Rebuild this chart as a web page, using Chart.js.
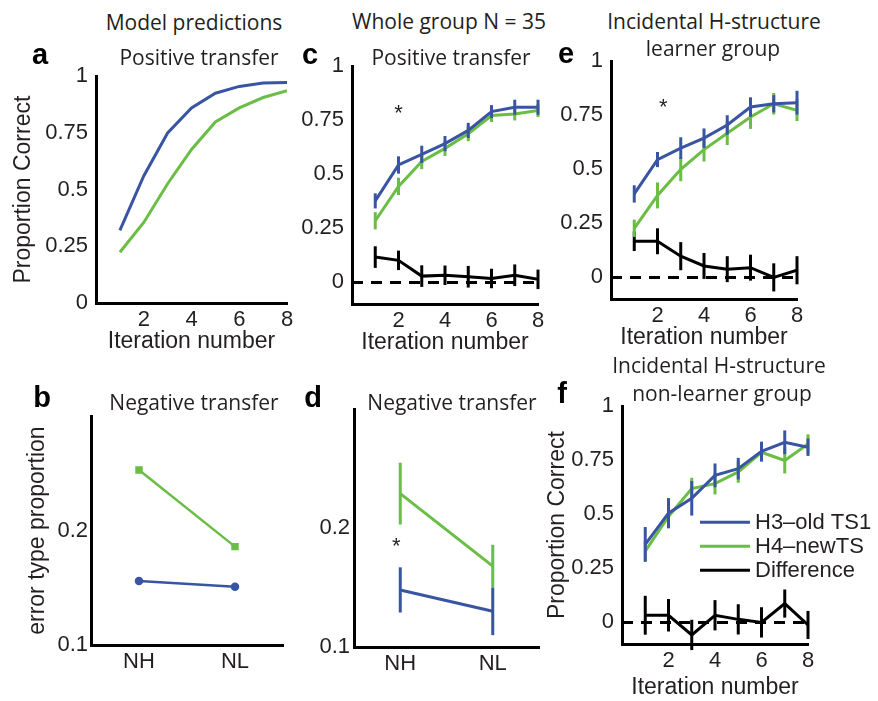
<!DOCTYPE html>
<html>
<head>
<meta charset="utf-8">
<script src="https://cdn.jsdelivr.net/npm/chart.js@4.4.1/dist/chart.umd.min.js"></script>
<style>
  html, body { margin: 0; padding: 0; background: #fff; }
  body { width: 878px; height: 701px; position: relative; overflow: hidden; }
  canvas { position: absolute; }
  .head { position: absolute; font-family: "Open Sans", sans-serif; font-size: 21px; color: #231f20;
          white-space: nowrap; transform: translate(-50%, -50%); line-height: 1; }
  .letter { position: absolute; font-family: "Liberation Sans", Arial, sans-serif; font-weight: bold;
            font-size: 29px; color: #000; transform: translate(-50%, -50%); line-height: 1; }
</style>
</head>
<body>

<canvas id="panelA" width="300" height="300" style="left:0;top:55px"></canvas>
<canvas id="panelB" width="298" height="280" style="left:0;top:400px"></canvas>
<canvas id="panelC" width="260" height="311" style="left:290px;top:45px"></canvas>
<canvas id="panelD" width="250" height="288" style="left:300px;top:392px"></canvas>
<canvas id="panelE" width="255" height="311" style="left:555px;top:40px"></canvas>
<canvas id="panelF" width="334" height="316" style="left:544px;top:385px"></canvas>

<div class="head" style="left:194px;top:22px">Model predictions</div>
<div class="letter" style="left:40px;top:54px">a</div>
<div class="head" style="left:199px;top:57px">Positive transfer</div>

<div class="head" style="left:449px;top:21px">Whole group N = 35</div>
<div class="letter" style="left:310px;top:54px">c</div>
<div class="head" style="left:451px;top:57px">Positive transfer</div>

<div class="head" style="left:714px;top:21px">Incidental H-structure</div>
<div class="head" style="left:713px;top:48px">learner group</div>
<div class="letter" style="left:566px;top:53px">e</div>

<div class="letter" style="left:42px;top:397px">b</div>
<div class="head" style="left:194px;top:402px">Negative transfer</div>

<div class="letter" style="left:313px;top:397px">d</div>
<div class="head" style="left:452px;top:402px">Negative transfer</div>

<div class="head" style="left:719px;top:365px">Incidental H-structure</div>
<div class="head" style="left:722px;top:393px">non-learner group</div>
<div class="letter" style="left:562px;top:393px">f</div>

<script>
// axes
const iterations = [1, 2, 3, 4, 5, 6, 7, 8];
const iterTicks = [2, 4, 6, 8];
const propTicks = [0, 0.25, 0.5, 0.75, 1];
const errTicks = [0.1, 0.2];
const transferCats = ['NH', 'NL'];
const seriesNames = ['H3\u2013old TS1', 'H4\u2013newTS', 'Difference'];

// a - model, positive transfer
const modelOld = [0.32, 0.56, 0.75, 0.86, 0.925, 0.955, 0.97, 0.972];
const modelNew = [0.224, 0.355, 0.526, 0.677, 0.798, 0.86, 0.906, 0.936];

// b - model, negative transfer
const modelNegOld = [0.156, 0.151];
const modelNegNew = [0.253, 0.186];

// c - whole group
const wholeOld = [0.377, 0.543, 0.592, 0.642, 0.703, 0.79, 0.81, 0.81];
const wholeOldErr = [0.035, 0.04, 0.04, 0.035, 0.035, 0.03, 0.035, 0.035];
const wholeNew = [0.285, 0.444, 0.559, 0.62, 0.688, 0.772, 0.779, 0.795];
const wholeNewErr = [0.04, 0.04, 0.035, 0.035, 0.035, 0.03, 0.03, 0.03];
const wholeDiff = [0.117, 0.102, 0.029, 0.033, 0.026, 0.018, 0.033, 0.014];
const wholeDiffErr = [0.05, 0.045, 0.05, 0.045, 0.05, 0.045, 0.05, 0.045];
const wholeStars = [{ x: 2, y: 0.79 }];

// d - whole group, negative transfer
const negOld = [0.148, 0.13];
const negOldErr = [0.019, 0.02];
const negNew = [0.229, 0.168];
const negNewErr = [0.026, 0.018];
const negStars = [{ x: 'NH', y: 0.186 }];

// e - learner group
const learnOld = [0.386, 0.545, 0.598, 0.644, 0.705, 0.788, 0.803, 0.808];
const learnOldErr = [0.04, 0.035, 0.05, 0.045, 0.045, 0.045, 0.04, 0.055];
const learnNew = [0.227, 0.379, 0.5, 0.591, 0.667, 0.742, 0.803, 0.773];
const learnNewErr = [0.04, 0.06, 0.055, 0.055, 0.055, 0.055, 0.05, 0.05];
const learnDiff = [0.167, 0.167, 0.098, 0.053, 0.038, 0.045, 0.0, 0.033];
const learnDiffErr = [0.045, 0.06, 0.065, 0.06, 0.06, 0.06, 0.065, 0.065];
const learnStars = [{ x: 2.25, y: 0.795 }];

// f - non-learner group
const nonOld = [0.361, 0.505, 0.574, 0.68, 0.711, 0.791, 0.833, 0.81];
const nonOldErr = [0.08, 0.07, 0.08, 0.055, 0.05, 0.045, 0.055, 0.04];
const nonNew = [0.33, 0.49, 0.619, 0.642, 0.696, 0.787, 0.749, 0.825];
const nonNewErr = [0.05, 0.05, 0.05, 0.05, 0.05, 0.045, 0.06, 0.045];
const nonDiff = [0.033, 0.033, -0.058, 0.033, 0.014, 0, 0.087, -0.012];
const nonDiffErr = [0.09, 0.075, 0.07, 0.07, 0.07, 0.07, 0.065, 0.065];

const BLUE = '#3a54a4';
const GREEN = '#6abd45';
const BLACK = '#000000';
const TEXT = '#231f20';
const TICK_FONT = { family: '"Liberation Sans", Arial, sans-serif', size: 22 };
const TITLE_FONT = { family: '"Liberation Sans", Arial, sans-serif', size: 23 };

// vertical error bars, drawn right after their own line
const errorBars = {
    id: 'errorBars',
    afterDatasetDraw(chart, args) {
        const ds = chart.data.datasets[args.index];
        if (!ds.errors) return;
        const ctx = chart.ctx;
        const yScale = chart.scales.y;
        ctx.save();
        ctx.strokeStyle = ds.borderColor;
        ctx.lineWidth = 3;
        args.meta.data.forEach((pt, i) => {
            const raw = ds.data[i];
            const v = typeof raw === 'object' ? raw.y : raw;
            const e = ds.errors[i];
            ctx.beginPath();
            ctx.moveTo(pt.x, yScale.getPixelForValue(v + e));
            ctx.lineTo(pt.x, yScale.getPixelForValue(v - e));
            ctx.stroke();
        });
        ctx.restore();
    }
};

// dashed zero line
const zeroLine = {
    id: 'zeroLine',
    beforeDatasetsDraw(chart, args, opts) {
        if (!opts.show) return;
        const { ctx, chartArea } = chart;
        const y = chart.scales.y.getPixelForValue(0);
        ctx.save();
        ctx.strokeStyle = BLACK;
        ctx.lineWidth = 3;
        ctx.setLineDash([11, 8]);
        ctx.beginPath();
        ctx.moveTo(chartArea.left, y);
        ctx.lineTo(chartArea.right, y);
        ctx.stroke();
        ctx.restore();
    }
};

// significance asterisks
const stars = {
    id: 'stars',
    afterDatasetsDraw(chart, args, opts) {
        if (!opts.points) return;
        const ctx = chart.ctx;
        ctx.save();
        ctx.fillStyle = TEXT;
        ctx.font = '22px "Liberation Sans", Arial, sans-serif';
        ctx.textAlign = 'center';
        ctx.textBaseline = 'alphabetic';
        opts.points.forEach(p => {
            const x = chart.scales.x.getPixelForValue(p.x);
            const y = chart.scales.y.getPixelForValue(p.y);
            ctx.fillText('*', x + (opts.dx || 0), y + 8);
        });
        ctx.restore();
    }
};

// line-sample legend placed over the plot, as in the figure
const lineLegend = {
    id: 'lineLegend',
    afterDraw(chart, args, opts) {
        if (!opts.show) return;
        const { ctx, chartArea } = chart;
        ctx.save();
        ctx.font = '22px "Liberation Sans", Arial, sans-serif';
        ctx.textBaseline = 'middle';
        chart.data.datasets.forEach((ds, i) => {
            const x = chartArea.left + opts.dx;
            const y = chartArea.top + opts.dy + i * opts.row;
            ctx.strokeStyle = ds.borderColor;
            ctx.lineWidth = 3;
            ctx.beginPath();
            ctx.moveTo(x, y);
            ctx.lineTo(x + 50, y);
            ctx.stroke();
            ctx.fillStyle = TEXT;
            ctx.fillText(ds.label, x + 55, y + 1);
        });
        ctx.restore();
    }
};

Chart.register(errorBars, zeroLine, stars, lineLegend);

function pts(values) {
    return values.map((y, i) => ({ x: iterations[i], y: y }));
}

function lineSet(label, values, color, errors) {
    return {
        label: label,
        data: values,
        errors: errors,
        borderColor: color,
        backgroundColor: color,
        borderWidth: 3,
        pointRadius: 0,
        tension: 0,
        fill: false
    };
}

function axisBase(fixed, isX) {
    return {
        grid: { display: false, drawTicks: false },
        border: { display: true, color: BLACK, width: 3 },
        afterFit: s => { if (isX) s.height = fixed; else s.width = fixed; }
    };
}

function iterAxis(height) {
    return Object.assign(axisBase(height, true), {
        type: 'linear', min: 0, max: 8,
        ticks: { font: TICK_FONT, color: TEXT, padding: 4, maxRotation: 0, callback: v => String(v) },
        afterBuildTicks: s => { s.ticks = iterTicks.map(v => ({ value: v })); },
        title: { display: true, text: 'Iteration number', font: TITLE_FONT, color: TEXT, padding: 0 }
    });
}

function propAxis(width, yTitle, titlePad) {
    return Object.assign(axisBase(width, false), {
        min: -0.1, max: 1,
        ticks: { font: TICK_FONT, color: TEXT, padding: 8, callback: v => String(v) },
        afterBuildTicks: s => { s.ticks = propTicks.map(v => ({ value: v })); },
        title: { display: !!yTitle, text: yTitle || '', font: TITLE_FONT, color: TEXT, padding: { top: titlePad || 0, bottom: 0 } }
    });
}

function catAxis(height) {
    return Object.assign(axisBase(height, true), {
        type: 'category', labels: transferCats, offset: true,
        ticks: { font: TICK_FONT, color: TEXT, padding: 4 }
    });
}

function errAxis(width, yTitle, titlePad, tickPad) {
    return Object.assign(axisBase(width, false), {
        min: 0.1, max: 0.3,
        ticks: { font: TICK_FONT, color: TEXT, padding: tickPad, callback: v => String(v) },
        afterBuildTicks: s => { s.ticks = errTicks.map(v => ({ value: v })); },
        title: { display: !!yTitle, text: yTitle || '', font: TITLE_FONT, color: TEXT, padding: { top: titlePad || 0, bottom: 0 } }
    });
}

function makeChart(id, datasets, scales, padding, extra) {
    const plugins = Object.assign({ legend: { display: false }, tooltip: { enabled: false } }, extra || {});
    return new Chart(document.getElementById(id), {
        type: 'line',
        data: { datasets: datasets },
        options: {
            responsive: false,
            animation: false,
            layout: { padding: padding },
            plugins: plugins,
            scales: scales
        }
    });
}

// a
const yA = propAxis(96, 'Proportion Correct', 10);
yA.min = 0;
makeChart('panelA', [
    lineSet(seriesNames[0], pts(modelOld), BLUE),
    lineSet(seriesNames[1], pts(modelNew), GREEN)
], { x: iterAxis(52), y: yA }, { top: 20, right: 13, left: 0, bottom: 0 });

// b
const bOld = lineSet(seriesNames[0], modelNegOld, BLUE);
bOld.borderWidth = 2.5; bOld.pointRadius = 3; bOld.pointStyle = 'circle';
const bNew = lineSet(seriesNames[1], modelNegNew, GREEN);
bNew.borderWidth = 2.5; bNew.pointRadius = 3.5; bNew.pointStyle = 'rect';
makeChart('panelB', [bOld, bNew],
    { x: catAxis(35), y: errAxis(91, 'error type proportion', 24, 3) },
    { top: 15, right: 15, left: 0, bottom: 0 });

// c
makeChart('panelC', [
    lineSet(seriesNames[0], pts(wholeOld), BLUE, wholeOldErr),
    lineSet(seriesNames[1], pts(wholeNew), GREEN, wholeNewErr),
    lineSet(seriesNames[2], pts(wholeDiff), BLACK, wholeDiffErr)
], { x: iterAxis(52), y: propAxis(62) }, { top: 18, right: 12, left: 0, bottom: 0 },
    { zeroLine: { show: true }, stars: { points: wholeStars } });

// d
makeChart('panelD', [
    lineSet(seriesNames[0], negOld, BLUE, negOldErr),
    lineSet(seriesNames[1], negNew, GREEN, negNewErr)
], { x: catAxis(33), y: errAxis(54, '', 0, 4) }, { top: 15, right: 11, left: 0, bottom: 0 },
    { stars: { points: negStars, dx: -4 } });

// e
makeChart('panelE', [
    lineSet(seriesNames[0], pts(learnOld), BLUE, learnOldErr),
    lineSet(seriesNames[1], pts(learnNew), GREEN, learnNewErr),
    lineSet(seriesNames[2], pts(learnDiff), BLACK, learnDiffErr)
], { x: iterAxis(52), y: propAxis(56) }, { top: 18, right: 13, left: 0, bottom: 0 },
    { zeroLine: { show: true }, stars: { points: learnStars } });

// f
makeChart('panelF', [
    lineSet(seriesNames[0], pts(nonOld), BLUE, nonOldErr),
    lineSet(seriesNames[1], pts(nonNew), GREEN, nonNewErr),
    lineSet(seriesNames[2], pts(nonDiff), BLACK, nonDiffErr)
], { x: iterAxis(57), y: propAxis(78, 'Proportion Correct', 0) }, { top: 18, right: 70, left: 0, bottom: 0 },
    { zeroLine: { show: true }, lineLegend: { show: true, dx: 78, dy: 116, row: 24 } });
</script>
</body>
</html>
